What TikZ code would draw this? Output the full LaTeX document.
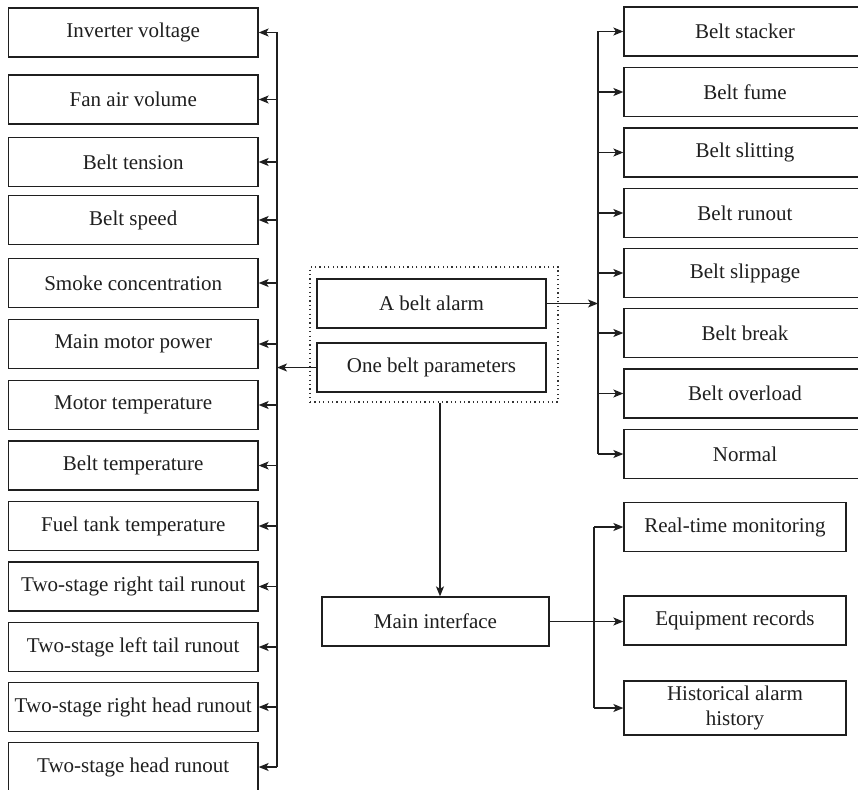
\documentclass[tikz,border=0pt]{standalone}
\usepackage{fontspec}
\setmainfont{Liberation Serif}
\usetikzlibrary{arrows.meta}
\begin{document}
\begin{tikzpicture}[x=1pt,y=-1pt,
  box/.style={draw=black!88, line width=1.3pt, minimum height=49pt, inner sep=0pt,
              font=\fontsize{21}{23}\selectfont, align=center, text=black!88},
  lbox/.style={box, minimum width=249.5pt},
  rbox/.style={box, minimum width=242pt},
  cbox/.style={box, minimum width=229pt},
  bbox/.style={box, minimum width=222pt},
  grpbox/.style={draw=black!80, line width=1.2pt, dash pattern=on 1.2pt off 3.2pt,
                 minimum width=248pt, minimum height=135pt, inner sep=0pt},
  conn/.style={line width=1.3pt, draw=black!88},
  arr/.style={conn, -{Stealth[length=10pt,width=8pt,inset=2.5pt]}}]
\clip (0,0) rectangle (858,789);
\fill[white] (0,0) rectangle (858,789);

% left column
\node[lbox] (L1)  at (133.25,32.5)  {Inverter voltage};
\node[lbox] (L2)  at (133.25,99.5)  {Fan air volume};
\node[lbox] (L3)  at (133.25,162)   {Belt tension};
\node[lbox] (L4)  at (133.25,220)   {Belt speed};
\node[lbox] (L5)  at (133.25,283)   {Smoke concentration};
\node[lbox] (L6)  at (133.25,344)   {Main motor power};
\node[lbox] (L7)  at (133.25,405)   {Motor temperature};
\node[lbox] (L8)  at (133.25,465.5) {Belt temperature};
\node[lbox] (L9)  at (133.25,526)   {Fuel tank temperature};
\node[lbox] (L10) at (133.25,586.5) {Two-stage right tail runout};
\node[lbox] (L11) at (133.25,647)   {Two-stage left tail runout};
\node[lbox] (L12) at (133.25,707)   {Two-stage right head runout};
\node[lbox] (L13) at (133.25,767)   {Two-stage head runout};

% right column
\node[rbox] (R1) at (745,31.5)  {Belt stacker};
\node[rbox] (R2) at (745,92)    {Belt fume};
\node[rbox] (R3) at (745,152.5) {Belt slitting};
\node[rbox] (R4) at (745,213)   {Belt runout};
\node[rbox] (R5) at (745,273)   {Belt slippage};
\node[rbox] (R6) at (745,333)   {Belt break};
\node[rbox] (R7) at (745,393.5) {Belt overload};
\node[rbox] (R8) at (745,454)   {Normal};

% centre group
\node[grpbox] (G) at (434,334.5) {};
\node[cbox] (C1) at (431.5,303.5) {A belt alarm};
\node[cbox] (C2) at (431.5,367.5) {One belt parameters};

% main interface and its outputs
\node[box, minimum width=227pt] (M) at (435.5,621.5) {Main interface};
\node[bbox] (B1) at (735,527) {Real-time monitoring};
\node[bbox] (B2) at (735,620.5) {Equipment records};
\node[bbox, minimum height=54pt, font=\fontsize{21}{25}\selectfont] (B3) at (735,708) {Historical alarm\\history};

% buses
\coordinate (lbus) at (277,0);
\coordinate (rbus) at (598,0);
\coordinate (bbus) at (594,0);
\coordinate (dn) at (440,0);

\draw[conn] (lbus |- L1.east) -- (lbus |- L13.east);
\foreach \i in {1,...,13} { \draw[arr] (lbus |- L\i.east) -- (L\i.east); }
\draw[arr] (C2.west) -- (lbus |- C2.west);

\draw[conn] (rbus |- R1.west) -- (rbus |- R8.west);
\foreach \i in {1,...,8} { \draw[arr] (rbus |- R\i.west) -- (R\i.west); }
\draw[arr] (C1.east) -- (rbus |- C1.east);

\draw[arr] (dn |- G.south) -- (dn |- M.north);

\draw[conn] (bbus |- B1.west) -- (bbus |- B3.west);
\foreach \i in {1,3} { \draw[arr] (bbus |- B\i.west) -- (B\i.west); }
\draw[arr] (M.east) -- (M.east -| B2.west);
\end{tikzpicture}
\end{document}
